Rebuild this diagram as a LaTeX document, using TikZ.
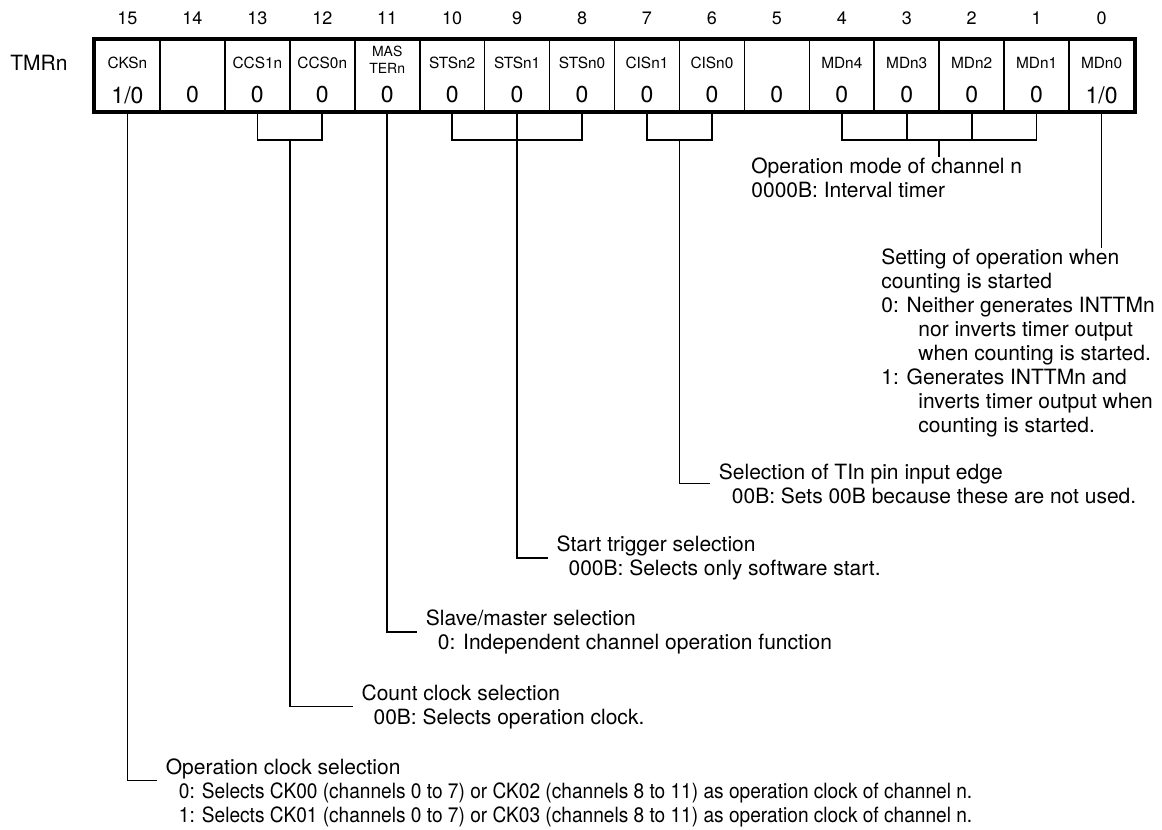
\documentclass[tikz,border=0pt]{standalone}
\usepackage{fontspec}
\setmainfont{TeX Gyre Heros}
\newfontfamily\narrowfont[FakeStretch=0.91]{TeX Gyre Heros}
\usetikzlibrary{positioning,calc}

\begin{document}
\begin{tikzpicture}[
  x=0.5pt, y=-0.5pt,
  cell/.style={draw, line width=0.8pt, inner sep=0, minimum width=32.47pt, minimum height=35.75pt},
  bitname/.style={inner sep=0, font=\fontsize{7.7}{9}\selectfont},
  bitval/.style={inner sep=0, font=\fontsize{11.5}{13}\selectfont},
  bitno/.style={inner sep=0, font=\fontsize{9}{11}\selectfont},
  desc/.style={inner sep=0, align=left, font=\fontsize{10.5}{12}\selectfont},
  conn/.style={line width=0.8pt}
]
\useasboundingbox (0,0) rectangle (1162,830);
\foreach \b/\name/\val in {15/CKSn/{1/0},14//0,13/CCS1n/0,12/CCS0n/0,11//0,10/STSn2/0,9/STSn1/0,8/STSn0/0,
    7/CISn1/0,6/CISn0/0,5//0,4/MDn4/0,3/MDn3/0,2/MDn2/0,1/MDn1/0,0/MDn0/{1/0}} {
  \node[cell] (b\b) at ({127.47+(15-\b)*64.94},75.75) {};
  \node[bitno] (n\b) at (b\b.center |- 0,18) {\b};
  \node[bitname] (l\b) at (b\b.center |- 0,63) {\name};
  \node[bitval] (v\b) at (b\b.center |- 0,95) {\val};
}
\node[bitname, font=\fontsize{7}{8.5}\selectfont, align=center] (mas) at (b11.center |- 0,60) {MAS\\TERn};
\draw[line width=2pt] (b15.north west) rectangle (b0.south east);
\node[desc, anchor=west] (reg) at (10,63) {TMRn};

\draw[conn] (b13.south) -- ++(0,27.5) -| (b12.south);
\draw[conn] (b10.south) -- ++(0,27.5) -| (b8.south);
\draw[conn] (b7.south) -- ++(0,27.5) -| (b6.south);
\draw[conn] (b4.south) -- ++(0,27.5) -| (b1.south);
\draw[conn] (b3.south) -- ++(0,27.5) (b2.south) -- ++(0,27.5);
\coordinate (ccs) at ($(b13.south)!.5!(b12.south)+(0,27.5)$);
\coordinate (cis) at ($(b7.south)!.5!(b6.south)+(0,27.5)$);
\coordinate (md) at ($(b4.south)!.5!(b1.south)+(0,27.5)$);

\coordinate (eCIS) at (710,483.5);
\coordinate (eSTS) at (547.7,558);
\coordinate (eMAS) at (417,632);
\coordinate (eCCS) at (352.7,706.5);
\coordinate (eCKS) at (157,780.5);

\node[desc, anchor=north west] (dMode) at (751,157) {Operation mode of channel n\\0000B: Interval timer};
\node[desc, anchor=north west] (dSet) at (881,248) {Setting of operation when\\counting is started\\
  0: Neither generates INTTMn\\\hspace*{18.5pt}nor inverts timer output\\\hspace*{18.5pt}when counting is started.\\
  1: Generates INTTMn and\\\hspace*{18.5pt}inverts timer output when\\\hspace*{18.5pt}counting is started.};
\node[desc, right=4.25pt of eCIS] (dCIS) {Selection of TIn pin input edge\\\hspace*{6.5pt}00B: Sets 00B because these are not used.};
\node[desc, right=4.25pt of eSTS] (dSTS) {Start trigger selection\\\hspace*{6pt}000B: Selects only software start.};
\node[desc, right=4.25pt of eMAS] (dMAS) {Slave/master selection\\\hspace*{6pt}0: Independent channel operation function};
\node[desc, right=4.25pt of eCCS] (dCCS) {Count clock selection\\\hspace*{6pt}00B: Selects operation clock.};
\node[desc, right=4.25pt of eCKS, yshift=-6pt] (dCKS) {Operation clock selection\\
  \hspace*{6.5pt}{\narrowfont 0: Selects CK00 (channels 0 to 7) or CK02 (channels 8 to 11) as operation clock of channel n.}\\
  \hspace*{6.5pt}{\narrowfont 1: Selects CK01 (channels 0 to 7) or CK03 (channels 8 to 11) as operation clock of channel n.}};

\draw[conn] (md) -- (md |- dMode.north);
\draw[conn] (b0.south) -- (b0.south |- dSet.north);
\draw[conn] (cis) |- (eCIS);
\draw[conn] (b9.south) |- (eSTS);
\draw[conn] (b11.south) |- (eMAS);
\draw[conn] (ccs) |- (eCCS);
\draw[conn] (b15.south) |- (eCKS);
\end{tikzpicture}
\end{document}
